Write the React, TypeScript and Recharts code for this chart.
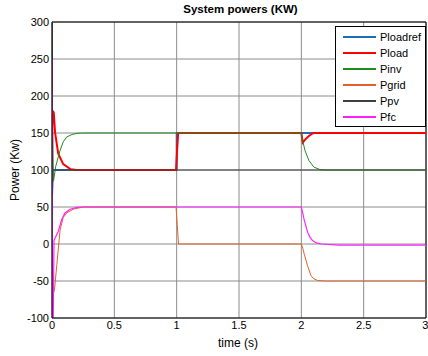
import { CartesianGrid, Line, LineChart, ReferenceLine, XAxis, YAxis } from 'recharts';

type Pt = [number, number];

const ploadref: Pt[] = [[0, 65], [0.008, 100], [1.0, 100], [1.0005, 150], [3, 150]];
const pload: Pt[] = [
  [0, 100], [0.004, 180], [0.014, 178], [0.025, 150], [0.05, 122], [0.09, 108], [0.15, 101], [0.2, 100],
  [0.995, 100], [1.003, 125], [1.012, 150], [2.0, 150], [2.012, 137], [2.03, 141], [2.06, 146], [2.09, 149.5],
  [2.12, 150], [3, 150]
];
const pinv: Pt[] = [
  [0, 300], [0.004, 160], [0.012, 85], [0.03, 105], [0.064, 126], [0.09, 138], [0.118, 144.6], [0.16, 148],
  [0.2, 149.5], [0.25, 150], [2.0, 150], [2.01, 140], [2.03, 126], [2.06, 113], [2.1, 104], [2.15, 100.5],
  [2.2, 100], [3, 100]
];
const pgrid: Pt[] = [
  [0, 0], [0.008, -68], [0.02, -62], [0.038, -29], [0.05, -8], [0.065, 19], [0.09, 36], [0.118, 42],
  [0.17, 47], [0.25, 50], [0.995, 50], [1.005, 25], [1.015, 0], [2.0, 0], [2.012, -6], [2.024, -14],
  [2.05, -29.5], [2.078, -43], [2.1, -47], [2.13, -49.3], [2.2, -50], [3, -50]
];
const ppv: Pt[] = [[0, 300], [0.004, 100], [3, 100]];
const pfc: Pt[] = [
  [0, 250], [0.004, -100], [0.01, -100], [0.016, 5], [0.025, 8], [0.05, 17], [0.078, 33], [0.104, 42],
  [0.145, 47], [0.2, 49.5], [0.25, 50], [2.0, 50], [2.012, 41], [2.024, 32], [2.05, 16], [2.07, 9],
  [2.09, 4.6], [2.12, 1.5], [2.16, 0], [2.3, -1.5], [3, -1.5]
];

const xTicks = [0, 0.5, 1, 1.5, 2, 2.5, 3];
const yTicks = [-100, -50, 0, 50, 100, 150, 200, 250, 300];

const series = [
  { name: 'Ploadref', pts: ploadref, color: '#1c6db5', width: 2 },
  { name: 'Pload', pts: pload, color: '#ff0000', width: 2 },
  { name: 'Pinv', pts: pinv, color: '#1e8c1e', width: 1 },
  { name: 'Pgrid', pts: pgrid, color: '#e0622a', width: 1 },
  { name: 'Ppv', pts: ppv, color: '#404040', width: 1 },
  { name: 'Pfc', pts: pfc, color: '#ff22ff', width: 1.2 }
];

const font = '"Liberation Sans", Arial, sans-serif';

function LegendBox() {
  return (
    <div
      style={{
        position: 'absolute',
        left: 335,
        top: 26,
        width: 89,
        height: 95,
        border: '1px solid #000',
        background: '#fff',
        fontSize: 11,
        paddingTop: 2,
        paddingBottom: 2,
        boxSizing: 'content-box'
      }}
    >
      {series.map((s) => (
        <div key={s.name} style={{ display: 'flex', alignItems: 'center', height: 16 }}>
          <svg width={44} height={16}>
            <line x1={7} x2={40} y1={8} y2={8} stroke={s.color} strokeWidth={2} />
          </svg>
          <span>{s.name}</span>
        </div>
      ))}
    </div>
  );
}

export default function App() {
  return (
    <div style={{ position: 'absolute', left: 0, top: 0, width: 428, height: 356, background: '#fff', fontFamily: font }}>
      <LineChart width={428} height={356} margin={{ top: 22, right: 2, bottom: 0, left: 0 }}>
        <CartesianGrid stroke="#8c8c8c" strokeWidth={1} />
        <XAxis
          type="number"
          dataKey="t"
          domain={[0, 3]}
          ticks={xTicks}
          allowDataOverflow
          height={38}
          tickSize={0}
          tickMargin={3}
          axisLine={{ stroke: '#000' }}
          tick={{ fill: '#000', fontSize: 11, fontFamily: font }}
        />
        <YAxis
          type="number"
          domain={[-100, 300]}
          ticks={yTicks}
          allowDataOverflow
          width={52}
          tickSize={0}
          tickMargin={3}
          axisLine={{ stroke: '#000' }}
          tick={{ fill: '#000', fontSize: 11, fontFamily: font }}
        />
        <ReferenceLine y={300} stroke="#000" />
        <ReferenceLine x={3} stroke="#000" />
        {series.map((s) => (
          <Line
            key={s.name}
            name={s.name}
            data={s.pts.map(([t, v]) => ({ t, v }))}
            dataKey="v"
            type="linear"
            stroke={s.color}
            strokeWidth={s.width}
            dot={false}
            activeDot={false}
            isAnimationActive={false}
          />
        ))}
      </LineChart>
      <div
        style={{
          position: 'absolute',
          left: 0,
          width: 428,
          top: 3,
          paddingLeft: 53,
          textAlign: 'center',
          fontWeight: 'bold',
          fontSize: 11.5,
          boxSizing: 'border-box'
        }}
      >
        System powers (KW)
      </div>
      <div
        style={{
          position: 'absolute',
          left: 15,
          top: 170,
          fontSize: 12,
          transform: 'translate(-50%, -50%) rotate(-90deg)',
          whiteSpace: 'nowrap'
        }}
      >
        Power (Kw)
      </div>
      <div style={{ position: 'absolute', left: 238, top: 343, fontSize: 12, transform: 'translate(-50%, -50%)' }}>
        time (s)
      </div>
      <LegendBox />
    </div>
  );
}
